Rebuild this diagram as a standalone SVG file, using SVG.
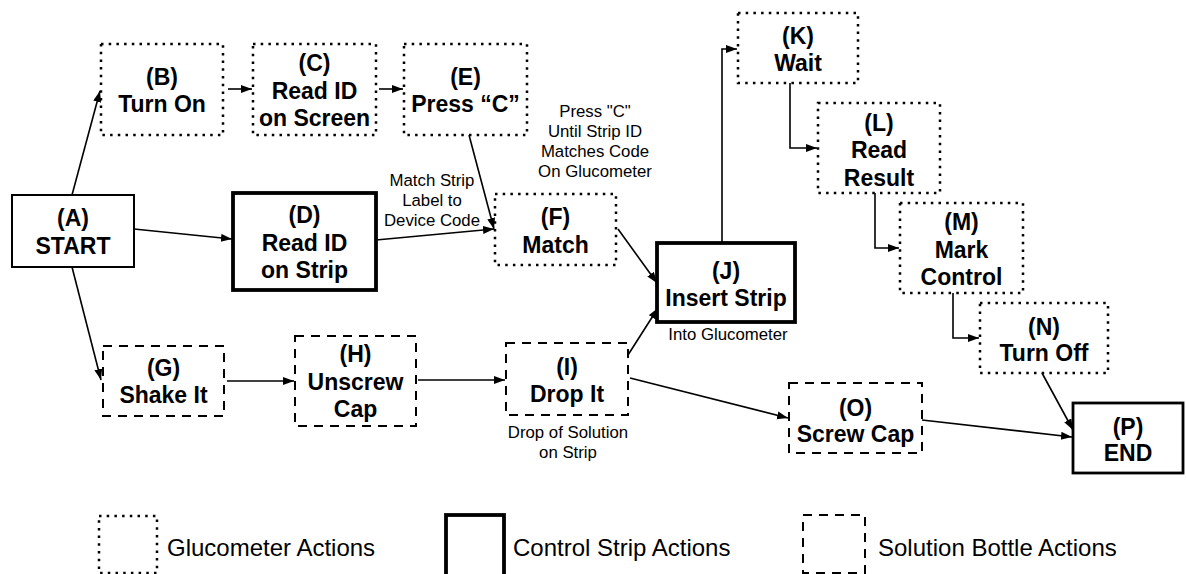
<svg xmlns="http://www.w3.org/2000/svg" width="1186" height="574" viewBox="0 0 1186 574">
<style>
.dot{fill:none;stroke:#000;stroke-width:2.5;stroke-dasharray:2.5 5.2}
.dash{fill:none;stroke:#000;stroke-width:2;stroke-dasharray:9 7}
.s2{fill:none;stroke:#000;stroke-width:2}
.s3{fill:none;stroke:#000;stroke-width:2.8}
.s4{fill:none;stroke:#000;stroke-width:3.8}
.t{font-family:"Liberation Sans",Arial,sans-serif;font-weight:bold;font-size:23px;text-anchor:middle;fill:#000}
.n{font-family:"Liberation Sans",Arial,sans-serif;font-size:16.8px;text-anchor:middle;fill:#000}
.lg{font-family:"Liberation Sans",Arial,sans-serif;font-size:24px;fill:#000}
.c{fill:none;stroke:#000;stroke-width:1.6;marker-end:url(#ah)}
</style>
<defs>
<marker id="ah" markerUnits="userSpaceOnUse" markerWidth="12" markerHeight="10" refX="11" refY="4" orient="auto">
<path d="M0,0 L11,4 L0,8 z" fill="#000"/>
</marker>
</defs>
<rect width="1186" height="574" fill="#fff"/>
<g id="connectors">
<path class="c" d="M72,195 L100,91"/>
<path class="c" d="M228,89 L252,89"/>
<path class="c" d="M379,89 L403,89"/>
<path class="c" d="M134,229 L232,239"/>
<path class="c" d="M72,267 L101,380"/>
<path class="c" d="M376,240 L494,229"/>
<path class="c" d="M469,135 L494,229"/>
<path class="c" d="M618,229 L657,283"/>
<path class="c" d="M722,243 L722,49 L737,49"/>
<path class="c" d="M790,83 L790,148 L817,148"/>
<path class="c" d="M875,193 L875,248 L899,248"/>
<path class="c" d="M953,293 L953,338 L979,338"/>
<path class="c" d="M1042,373 L1073,430"/>
<path class="c" d="M922,420 L1072,437"/>
<path class="c" d="M630,378 L788,418"/>
<path class="c" d="M628,355 L658,308"/>
<path class="c" d="M227,381 L294,381"/>
<path class="c" d="M418,380 L505,380"/>
</g>
<g id="nodeA"><rect class="s2" x="12" y="195" width="122" height="72"/><text class="t" x="73" y="226">(A)</text><text class="t" x="73" y="254">START</text></g>
<g id="nodeB"><rect class="dot" x="101" y="44" width="122" height="91"/><text class="t" x="162" y="85">(B)</text><text class="t" x="162" y="112">Turn On</text></g>
<g id="nodeC"><rect class="dot" x="253" y="44" width="123" height="91"/><text class="t" x="314.5" y="71">(C)</text><text class="t" x="314.5" y="98.5">Read ID</text><text class="t" x="314.5" y="126">on Screen</text></g>
<g id="nodeD"><rect class="s4" x="233" y="193" width="143" height="97"/><text class="t" x="304.5" y="223">(D)</text><text class="t" x="304.5" y="250.5">Read ID</text><text class="t" x="304.5" y="278">on Strip</text></g>
<g id="nodeE"><rect class="dot" x="404" y="44" width="123" height="91"/><text class="t" x="465.5" y="85">(E)</text><text class="t" x="465.5" y="112">Press “C”</text></g>
<g id="nodeF"><rect class="dot" x="495" y="194" width="121" height="71"/><text class="t" x="555.5" y="225">(F)</text><text class="t" x="555.5" y="252.5">Match</text></g>
<g id="nodeG"><rect class="dash" x="103" y="346" width="121" height="70"/><text class="t" x="163.5" y="376">(G)</text><text class="t" x="163.5" y="403">Shake It</text></g>
<g id="nodeH"><rect class="dash" x="295" y="336" width="121" height="90"/><text class="t" x="355.5" y="362">(H)</text><text class="t" x="355.5" y="390">Unscrew</text><text class="t" x="355.5" y="417">Cap</text></g>
<g id="nodeI"><rect class="dash" x="506" y="343" width="122" height="72"/><text class="t" x="567" y="375">(I)</text><text class="t" x="567" y="402">Drop It</text></g>
<g id="nodeJ"><rect class="s4" x="657" y="243" width="138" height="79"/><text class="t" x="726" y="279">(J)</text><text class="t" x="726" y="306">Insert Strip</text></g>
<g id="nodeK"><rect class="dot" x="738" y="13" width="120" height="70"/><text class="t" x="798" y="44">(K)</text><text class="t" x="798" y="71">Wait</text></g>
<g id="nodeL"><rect class="dot" x="818" y="103" width="122" height="90"/><text class="t" x="879" y="131">(L)</text><text class="t" x="879" y="158">Read</text><text class="t" x="879" y="186">Result</text></g>
<g id="nodeM"><rect class="dot" x="900" y="203" width="123" height="90"/><text class="t" x="961.5" y="230">(M)</text><text class="t" x="961.5" y="257.5">Mark</text><text class="t" x="961.5" y="285">Control</text></g>
<g id="nodeN"><rect class="dot" x="980" y="303" width="128" height="70"/><text class="t" x="1044" y="334.5">(N)</text><text class="t" x="1044" y="361">Turn Off</text></g>
<g id="nodeO"><rect class="dash" x="789" y="383" width="133" height="70"/><text class="t" x="855.5" y="416">(O)</text><text class="t" x="855.5" y="442">Screw Cap</text></g>
<g id="nodeP"><rect class="s3" x="1073" y="403" width="110" height="70"/><text class="t" x="1128" y="435">(P)</text><text class="t" x="1128" y="461">END</text></g>
<g id="notes">
<text class="n" x="432" y="186">Match Strip</text>
<text class="n" x="432" y="206">Label to</text>
<text class="n" x="432" y="226">Device Code</text>
<text class="n" x="595" y="117">Press "C"</text>
<text class="n" x="595" y="137">Until Strip ID</text>
<text class="n" x="595" y="157">Matches Code</text>
<text class="n" x="595" y="177">On Glucometer</text>
<text class="n" x="728" y="340">Into Glucometer</text>
<text class="n" x="568" y="438">Drop of Solution</text>
<text class="n" x="568" y="458">on Strip</text>
</g>
<g id="legend">
<rect class="dot" x="99" y="516" width="58" height="57"/>
<text class="lg" x="167" y="555.5">Glucometer Actions</text>
<rect class="s4" x="446" y="515" width="58" height="62"/>
<text class="lg" x="513" y="555.5">Control Strip Actions</text>
<rect class="dash" x="803" y="515" width="62" height="58"/>
<text class="lg" x="878" y="555.5">Solution Bottle Actions</text>
</g>
</svg>
